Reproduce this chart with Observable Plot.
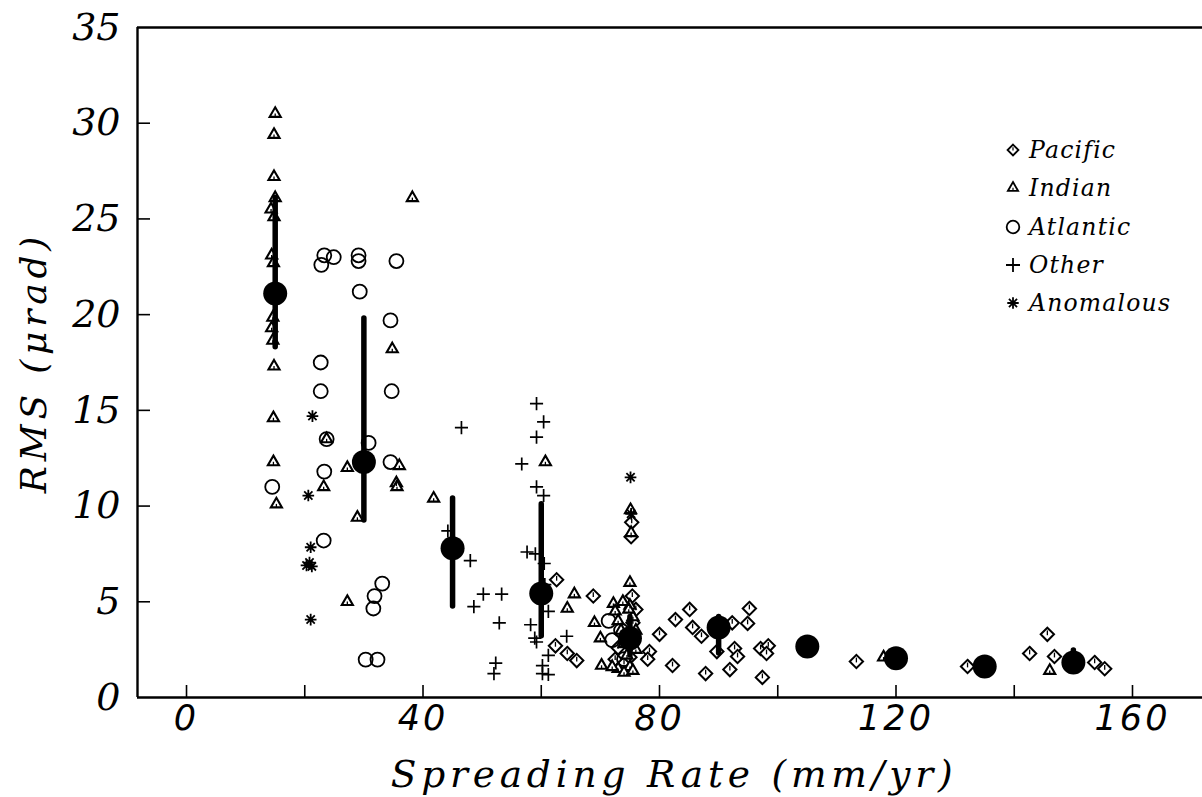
<!DOCTYPE html>
<html>
<head>
<meta charset="utf-8">
<script src="https://cdn.jsdelivr.net/npm/d3@7"></script>
<script src="https://cdn.jsdelivr.net/npm/@observablehq/plot@0.6"></script>
<style>
  html, body { margin: 0; padding: 0; background: #fff; overflow: hidden; }
  #wrap { position: relative; width: 1202px; height: 797px; }
  #legend { position: absolute; left: 1002px; top: 131px; font-family: "DejaVu Serif", serif; font-style: italic; font-size: 23.5px; color: #000; }
  #legend .row { height: 38.3px; display: flex; align-items: center; white-space: nowrap; letter-spacing: 1.2px; }
  #legend svg { width: 22px; height: 22px; margin-right: 5px; overflow: visible; }
  svg g[aria-label="text"] text { letter-spacing: 4.8px; }
  svg g[aria-label="x-axis tick label"] text { letter-spacing: 3px; }
</style>
</head>
<body>
<div id="wrap"><div id="legend"></div></div>
<script>
// ---- data ----
const xLabelTicks = [0, 40, 80, 120, 160];
const xMinorTicks = [0, 20, 40, 60, 80, 100, 120, 140, 160];
const yTicks = [0, 5, 10, 15, 20, 25, 30, 35];

const pacific = [
  [62.6,6.15],[68.8,5.3],[62.4,2.7],[64.4,2.3],[66.0,1.93],[75.4,5.3],[80.0,3.3],[78.3,2.4],[78.0,2.0],
  [82.2,1.67],[82.7,4.07],[85.1,4.6],[85.6,3.66],[87.1,3.2],[87.8,1.25],[92.3,3.9],[94.9,3.87],[95.2,4.65],
  [92.7,2.56],[93.2,2.14],[91.9,1.46],[97.1,2.56],[98.4,2.7],[98.1,2.3],[97.4,1.05],[89.7,2.4],
  [113.3,1.88],[132.1,1.62],[142.6,2.3],[145.6,3.3],[146.8,2.14],[153.6,1.83],[155.3,1.5],
  [75.3,9.15],[75.2,8.4],[74.0,1.8],[75.0,2.1],[73.0,2.6],[76.0,4.6],[72.5,2.0],[75.5,3.9]
];
const indian = [
  [15.0,30.5],[14.8,29.4],[14.8,27.2],[15.0,26.1],[14.3,25.5],[14.8,25.1],[14.4,23.1],[14.7,22.7],
  [14.6,19.85],[14.4,19.3],[14.6,18.65],[14.8,17.3],[14.7,14.6],[14.7,12.3],[15.2,10.1],
  [38.2,26.1],[34.8,18.2],[23.7,13.5],[27.2,12.0],[36.0,12.1],[35.5,11.2],[35.6,11.0],[23.2,11.0],
  [28.9,9.4],[27.2,5.0],[41.8,10.4],[60.7,12.3],[65.6,5.4],[64.4,4.65],[69.0,3.9],[72.2,4.9],[70.2,1.67],
  [75.1,9.8],[75.2,8.6],[75.0,6.0],[70.0,3.1],[75.0,4.8],
  [72.5,4.5],[73.0,4.0],[73.5,3.5],[74.0,2.8],[74.5,2.2],[75.0,1.6],[73.0,1.5],[72.0,1.6],[74.0,1.3],
  [75.5,1.4],[76.0,2.5],[76.0,3.5],[75.5,4.2],[74.8,4.6],[73.8,5.0],
  [117.9,2.1],[146.0,1.4]
];
const atlantic = [
  [23.3,23.1],[24.9,23.0],[22.8,22.6],[29.1,23.1],[29.1,22.8],[35.5,22.8],[29.3,21.2],[34.5,19.7],
  [22.7,17.5],[22.7,16.0],[34.7,16.0],[30.8,13.3],[23.7,13.5],[34.5,12.3],[23.3,11.8],[14.5,11.0],
  [23.2,8.2],[33.1,5.95],[31.8,5.3],[31.6,4.65],[30.3,1.98],[32.3,1.98],[71.4,4.0],[72.0,3.0],[73.5,3.5],[74.0,2.0]
];
const other = [
  [59.2,15.35],[60.4,14.4],[59.2,13.6],[46.5,14.1],[56.7,12.2],[59.2,11.0],[60.4,10.55],[57.6,7.6],
  [59.0,7.5],[60.5,7.0],[44.2,8.7],[48.0,7.15],[50.2,5.4],[53.3,5.4],[48.6,4.75],[52.9,3.9],[58.2,3.8],
  [58.9,3.1],[59.2,2.9],[61.2,4.5],[64.3,3.2],[61.2,2.2],[52.3,1.8],[52.0,1.25],[60.2,1.67],[60.2,1.25],
  [61.2,1.2],[60.6,5.9]
];
const anomalous = [
  [21.3,14.7],[20.6,10.55],[21.0,7.85],[20.3,6.9],[20.8,7.05],[21.2,6.85],[21.0,4.07],[75.1,11.5],[75.2,9.6]
];
const meanX  = [15, 30, 45, 60, 75, 90, 105, 120, 135, 150];
const meanY  = [21.1, 12.3, 7.8, 5.43, 3.1, 3.66, 2.66, 2.05, 1.62, 1.83];
const meanLo = [18.3, 9.25, 4.75, 3.2, 2.2, 2.3, 2.66, 2.05, 1.62, 1.4];
const meanHi = [26.1, 19.8, 10.4, 10.1, 4.2, 4.2, 2.66, 2.05, 1.62, 2.45];

const means = meanX.map((x, i) => ({x, y: meanY[i], lo: meanLo[i], hi: meanHi[i]}));
const pts = a => a.map(([x, y]) => ({x, y}));

// ---- custom symbols ----
const star8 = {draw(ctx, size) {
  const r = Math.sqrt(size / Math.PI) * 1.1;
  for (let k = 0; k < 4; k++) {
    const a = k * Math.PI / 4, c = Math.cos(a) * r, s = Math.sin(a) * r;
    ctx.moveTo(c, s); ctx.lineTo(-c, -s);
  }
}};
const tickDiamond = {draw(ctx, size) {
  const r = Math.sqrt(size / Math.PI);
  ctx.moveTo(0, -r * 0.65); ctx.lineTo(0, r * 0.15);
}};
const tickTriangle = {draw(ctx, size) {
  const r = Math.sqrt(size / Math.PI);
  ctx.moveTo(0, -r * 0.05); ctx.lineTo(0, r * 0.55);
}};

const xDomain = [-8.29, 171.84];
const yDomain = [0, 35];
const pxPerX = 1065 / (xDomain[1] - xDomain[0]);
const pxPerY = 670 / (yDomain[1] - yDomain[0]);

const chart = Plot.plot({
  width: 1202, height: 797,
  marginLeft: 137, marginRight: 0, marginTop: 27, marginBottom: 100,
  x: {domain: xDomain},
  y: {domain: yDomain},
  style: {background: "#fff", color: "#000"},
  marks: [
    // frame (left, top, bottom)
    Plot.ruleX([xDomain[0]], {stroke: "#000", strokeWidth: 2.4}),
    Plot.ruleY(yDomain, {stroke: "#000", strokeWidth: 2.4}),
    // inward ticks
    Plot.ruleX(xMinorTicks, {x: d => d, y1: 0, y2: 12 / pxPerY, stroke: "#000", strokeWidth: 1.6}),
    Plot.ruleY(yTicks.slice(1, -1), {y: d => d, x1: xDomain[0], x2: xDomain[0] + 13 / pxPerX, stroke: "#000", strokeWidth: 1.6}),
    // tick labels
    Plot.axisX(xLabelTicks, {tickSize: 0, tickPadding: 8, label: null, fontSize: 35,
      fontFamily: "DejaVu Sans", fontStyle: "italic", tickFormat: d => String(d)}),
    Plot.axisY(yTicks, {tickSize: 0, tickPadding: 17, label: null, fontSize: 38,
      fontFamily: "DejaVu Serif", fontStyle: "italic", tickFormat: d => String(d)}),
    // axis titles
    Plot.text(["Spreading Rate (mm/yr)"], {frameAnchor: "bottom", lineAnchor: "middle", textAnchor: "middle",
      dy: 77, dx: 4, fontSize: 37.5, fontFamily: "DejaVu Serif", fontStyle: "italic", fill: "#000", text: d => d}),
    Plot.text(["RMS (\u03bcrad)"], {frameAnchor: "left", lineAnchor: "middle", textAnchor: "middle",
      dx: -103, dy: 0, rotate: -90, fontSize: 36, fontFamily: "DejaVu Serif", fontStyle: "italic", fill: "#000", text: d => d}),
    // data
    Plot.dot(pts(pacific), {x: "x", y: "y", symbol: "diamond2", r: 6, stroke: "#000", strokeWidth: 2, fill: "#fff"}),
    Plot.dot(pts(pacific), {x: "x", y: "y", symbol: tickDiamond, r: 6, stroke: "#000", strokeWidth: 1.3}),
    Plot.dot(pts(atlantic), {x: "x", y: "y", symbol: "circle", r: 7, stroke: "#000", strokeWidth: 1.8, fill: "none"}),
    Plot.dot(pts(indian), {x: "x", y: "y", symbol: "triangle2", r: 5.3, stroke: "#000", strokeWidth: 2.1, fill: "#fff"}),
    Plot.dot(pts(indian), {x: "x", y: "y", symbol: tickTriangle, r: 5.3, stroke: "#000", strokeWidth: 1.3}),
    Plot.dot(pts(other), {x: "x", y: "y", symbol: "plus", r: 4.3, stroke: "#000", strokeWidth: 1.7}),
    Plot.dot(pts(anomalous), {x: "x", y: "y", symbol: star8, r: 5.3, stroke: "#000", strokeWidth: 1.8}),
    // means with error bars
    Plot.ruleX(means, {x: "x", y1: "lo", y2: "hi", stroke: "#000", strokeWidth: 5.5, strokeLinecap: "round"}),
    Plot.dot(means, {x: "x", y: "y", r: 12, fill: "#000", stroke: "none"})
  ]
});
document.getElementById("wrap").prepend(chart);

// ---- legend ----
const legendItems = [
  {label: "Pacific", type: d3.symbolDiamond2, size: Math.PI * 24, tick: [-0.55, 0.1]},
  {label: "Indian", type: d3.symbolTriangle2, size: Math.PI * 24, tick: [-0.05, 0.5]},
  {label: "Atlantic", type: d3.symbolCircle, size: Math.PI * 40},
  {label: "Other", type: d3.symbolPlus, size: 66},
  {label: "Anomalous", type: star8, size: Math.PI * 27}
];
const leg = d3.select("#legend");
for (const it of legendItems) {
  const row = leg.append("div").attr("class", "row");
  const svg = row.append("svg").attr("viewBox", "-11 -11 22 22");
  svg.append("path").attr("d", d3.symbol(it.type, it.size)())
    .attr("fill", it.type === d3.symbolCircle ? "none" : "#fff")
    .attr("stroke", "#000").attr("stroke-width", 1.8);
  if (it.tick) {
    const r = Math.sqrt(it.size / Math.PI);
    svg.append("line").attr("x1", 0).attr("x2", 0).attr("y1", it.tick[0] * r).attr("y2", it.tick[1] * r)
      .attr("stroke", "#000").attr("stroke-width", 1.2);
  }
  row.append("span").text(it.label);
}
</script>
</body>
</html>
